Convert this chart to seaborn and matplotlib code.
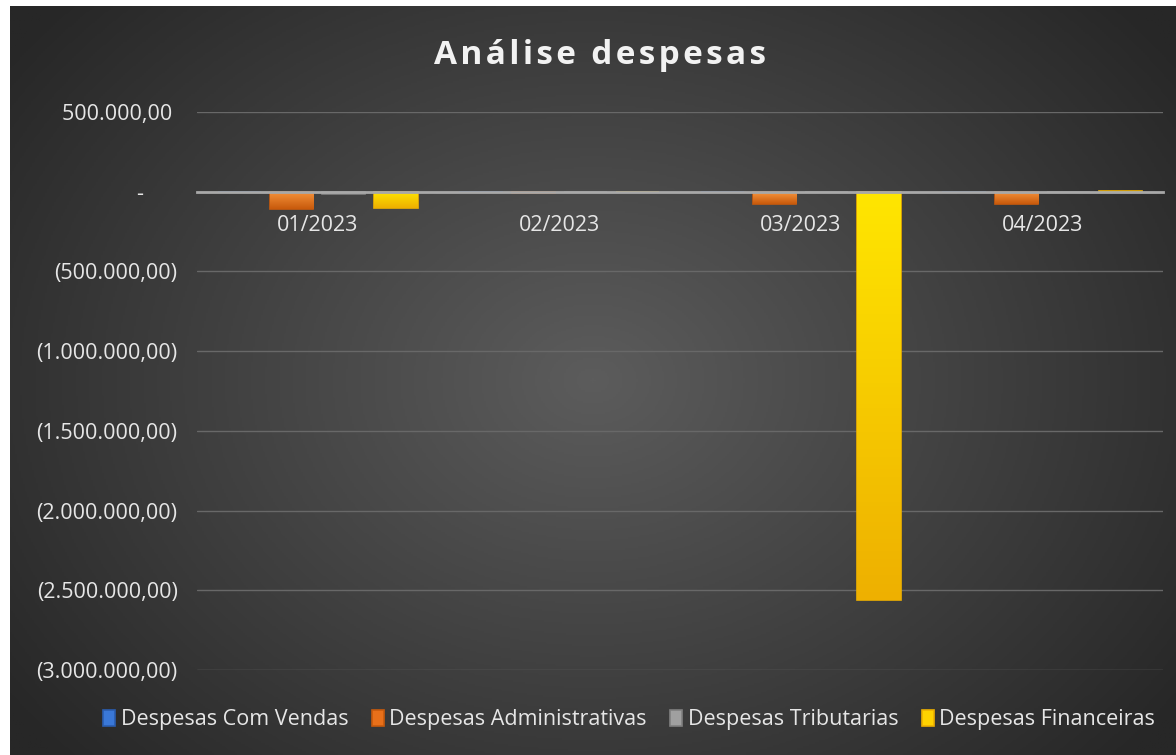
import numpy as np
import pandas as pd
import matplotlib
matplotlib.use("Agg")
import matplotlib.pyplot as plt
import matplotlib.colors as mcolors
from matplotlib.ticker import FuncFormatter, MultipleLocator
import seaborn as sns

# data
categories = ['01/2023', '02/2023', '03/2023', '04/2023']
series = ['Despesas Com Vendas', 'Despesas Administrativas',
          'Despesas Tributarias', 'Despesas Financeiras']
vendas = [0, 0, 0, 0]
administrativas = [-110000, -8000, -75000, -80000]
tributarias = [-15000, 0, 0, 0]
financeiras = [-105000, 0, -2560000, 5000]

colors = ['#3A78D8', '#E8701A', '#A0A0A0', '#FFD200']
# (light, dark) for a simple gradient on each bar
grad = {'#3a78d8': ('#6FA0EE', '#2A5DB0'),
        '#e8701a': ('#F7943C', '#C85A0C'),
        '#a0a0a0': ('#C8C8C8', '#808080'),
        '#ffd200': ('#FFE600', '#EEB000')}

df = pd.DataFrame({
    'mes': categories * 4,
    'serie': np.repeat(series, 4),
    'valor': vendas + administrativas + tributarias + financeiras,
})


def accounting(v, pos):
    if abs(v) < 1:
        return '-      '
    s = f"{abs(v):,.2f}".replace(',', 'X').replace('.', ',').replace('X', '.')
    return f"({s})" if v < 0 else s + ' '


sns.set_theme(style='dark')
plt.rcParams['font.family'] = ['Open Sans', 'DejaVu Sans']

W, H = 1176, 755
fig = plt.figure(figsize=(W / 100, H / 100), dpi=100)
fig.patch.set_facecolor('white')

# radial gradient background (chart area leaves a thin white strip top/left)
bg = fig.add_axes([10 / W, 0, (W - 10) / W, (H - 6) / H])
yy, xx = np.mgrid[0:1:400j, 0:1:600j]
r = np.sqrt(((xx - 0.5) / 0.62) ** 2 + ((yy - 0.5) / 0.75) ** 2)
r = np.clip(r, 0, 1)
cmap_bg = mcolors.LinearSegmentedColormap.from_list('bg', ['#5c5c5c', '#272727'])
bg.imshow(r, cmap=cmap_bg, aspect='auto', extent=[0, 1, 0, 1])
bg.set_axis_off()

ax = fig.add_axes([197 / W, (H - 670) / H, 966 / W, 558 / H])
ax.set_facecolor('none')

sns.barplot(data=df, x='mes', y='valor', hue='serie', palette=colors, saturation=1,
            width=0.863, gap=0.17, ax=ax, legend=True, zorder=3)

# gradient fill clipped to every bar
for patch in ax.patches:
    fc = mcolors.to_hex(patch.get_facecolor()).lower()
    if fc not in grad:
        continue
    light, dark = grad[fc]
    patch.set_edgecolor(dark)
    patch.set_linewidth(1.2)
    x0, y0 = patch.get_x(), patch.get_y()
    w, h = patch.get_width(), patch.get_height()
    if abs(h) < 1:
        continue
    g = np.linspace(0, 1, 100).reshape(-1, 1)
    cm = mcolors.LinearSegmentedColormap.from_list('b', [light, dark])
    top, bot = max(y0, y0 + h), min(y0, y0 + h)
    im = ax.imshow(g, cmap=cm, aspect='auto', zorder=3.5,
                   extent=[x0, x0 + w, bot, top], origin='upper')
    im.set_clip_path(patch)

ax.set_ylim(-3000000, 500000)
ax.set_xlim(-0.5, 3.5)
ax.yaxis.set_major_locator(MultipleLocator(500000))
ax.yaxis.set_major_formatter(FuncFormatter(accounting))
ax.grid(axis='y', color='#686868', lw=1, zorder=0)
ax.grid(axis='x', visible=False)

for s in ['top', 'right', 'left']:
    ax.spines[s].set_visible(False)
ax.spines['bottom'].set_position(('data', 0))
ax.spines['bottom'].set_color('#a8a8a8')
ax.spines['bottom'].set_linewidth(2)
ax.spines['bottom'].set_zorder(4)

ax.tick_params(axis='y', length=0, pad=14, labelsize=15.5, labelcolor='#e6e6e6')
ax.tick_params(axis='x', length=0, pad=17, labelsize=15.5, labelcolor='#e6e6e6')
ax.set_xlabel('')
ax.set_ylabel('')

hs = '\u200a'
title = hs.join('Análise despesas')
fig.text(0.51, (H - 56) / H, title, ha='center', va='center',
         fontsize=24, fontweight='bold', color='#f2f2f2')

handles, labels = ax.get_legend_handles_labels()
leg = fig.legend(handles, labels, loc='center', bbox_to_anchor=(0.535, (H - 720) / H),
                 ncol=4, frameon=False, fontsize=15.5, handlelength=0.55,
                 handleheight=0.8, handletextpad=0.25, columnspacing=1.1)
for t in leg.get_texts():
    t.set_color('#e6e6e6')
ax.get_legend().remove()

fig.savefig('out.png', dpi=100, facecolor=fig.get_facecolor())
